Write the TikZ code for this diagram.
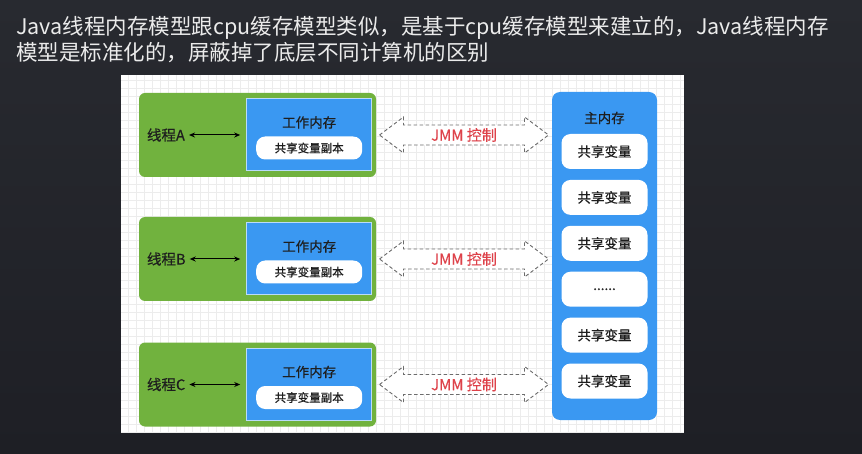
\documentclass[tikz,border=0pt]{standalone}
\usepackage{fontspec}
\setmainfont{Noto Sans CJK SC}
\newfontfamily\diagfont[FakeBold=0.5]{Noto Sans CJK SC}
\usepackage{tikz}
\usetikzlibrary{positioning, arrows.meta, calc}
\definecolor{slidebg}{RGB}{40,42,48}
\definecolor{slidebgdark}{RGB}{30,31,37}
\definecolor{threadgreen}{RGB}{113,178,62}
\definecolor{memblue}{RGB}{58,152,242}
\definecolor{jmmred}{RGB}{222,66,74}
\definecolor{darktext}{RGB}{30,30,30}
\definecolor{gridgray}{RGB}{236,236,236}
\tikzset{
  thread/.style={
    rectangle, rounded corners=6pt, fill=threadgreen,
    minimum width=237pt, minimum height=84pt
  },
  workmem/.style={
    rectangle, fill=memblue, draw=white!65!memblue, line width=1pt,
    minimum width=125pt, minimum height=72pt
  },
  heading/.style={inner sep=0pt, text=darktext, font=\diagfont\fontsize{13.5}{16}\selectfont},
  copybox/.style={
    rectangle, rounded corners=9pt, fill=white, text=darktext,
    minimum width=106pt, minimum height=23pt, inner sep=0pt,
    font=\diagfont\fontsize{11.5}{14}\selectfont
  },
  namelabel/.style={inner sep=0pt, text=darktext, font=\diagfont\fontsize{14.5}{16}\selectfont},
  biarrow/.style={{Stealth[length=6pt,width=5pt]}-{Stealth[length=6pt,width=5pt]}, line width=1pt, black},
  jmmline/.style={
    draw=gray!85!black, dash pattern=on 3.5pt off 2.5pt,
    line width=0.9pt, fill=white
  },
  jmmtext/.style={inner sep=0pt, text=jmmred, font=\diagfont\fontsize{15}{17}\selectfont},
  mainmem/.style={
    rectangle, rounded corners=8pt, fill=memblue,
    minimum width=105pt, minimum height=328pt
  },
  varbox/.style={
    rectangle, rounded corners=9pt, fill=white, text=darktext,
    minimum width=86pt, minimum height=35pt, inner sep=0pt,
    font=\diagfont\fontsize{13.5}{16}\selectfont
  },
  title/.style={anchor=west, inner sep=0pt, text=white!92!black, font=\fontsize{21.5}{24}\selectfont},
}
% dashed double arrow round a point
\newcommand{\jmmarrow}[1]{%
  \draw[jmmline] (#1) ++(-84.5,0) -- ++(24,-18) -- ++(0,8) -- ++(121,0) -- ++(0,-8)
    -- ++(24,18) -- ++(-24,18) -- ++(0,-8) -- ++(-121,0) -- ++(0,8) -- cycle;}

\begin{document}
\begin{tikzpicture}[x=1pt, y=-1pt]
  % slide background and title
  \shade[top color=slidebg, bottom color=slidebgdark] (0,0) rectangle (862,454);
  \useasboundingbox (0,0) rectangle (862,454);
  \node[title] (title1) at (16,27.5) {Java线程内存模型跟cpu缓存模型类似，是基于cpu缓存模型来建立的，Java线程内存};
  \node[title] (title2) at (16,52.5) {模型是标准化的，屏蔽掉了底层不同计算机的区别};

  % white panel with grid
  \fill[white] (121,75) rectangle (684,433);
  \draw[gridgray, line width=0.4pt, step=8pt] (121,75) grid (684,433);

  % main memory
  \node[mainmem] (mainmem) at (604.5,256) {};
  \node[heading] (mainmemtitle) at (604.5,118) {主内存};
  \node[varbox] (var1) at (604.5,151.5) {共享变量};
  \node[varbox, below=10.5pt of var1] (var2) {共享变量};
  \node[varbox, below=10.5pt of var2] (var3) {共享变量};
  \node[varbox, below=10.5pt of var3] (var4) {......};
  \node[varbox, below=10.5pt of var4] (var5) {共享变量};
  \node[varbox, below=10.5pt of var5] (var6) {共享变量};

  % thread A
  \node[thread] (threadA) at (257.5,135) {};
  \node[workmem, left=4pt of threadA.east] (workA) {};
  \node[heading] (workAtitle) at ([yshift=12.5pt]workA.center) {工作内存};
  \node[copybox] (copyA) at ([yshift=-13pt]workA.center) {共享变量副本};
  \node[namelabel, right=8pt of threadA.west] (nameA) {线程A};
  \draw[biarrow] ([xshift=4pt]nameA.east) -- ([xshift=-6pt]workA.west);
  \coordinate (jmmA) at ($(threadA.east)!0.5!(mainmem.west |- threadA.east)$);
  \jmmarrow{jmmA}
  \node[jmmtext] (jmmAtext) at (jmmA) {JMM 控制};

  % thread B
  \node[thread] (threadB) at (257.5,259) {};
  \node[workmem, left=4pt of threadB.east] (workB) {};
  \node[heading] (workBtitle) at ([yshift=12.5pt]workB.center) {工作内存};
  \node[copybox] (copyB) at ([yshift=-13pt]workB.center) {共享变量副本};
  \node[namelabel, right=8pt of threadB.west] (nameB) {线程B};
  \draw[biarrow] ([xshift=4pt]nameB.east) -- ([xshift=-6pt]workB.west);
  \coordinate (jmmB) at ($(threadB.east)!0.5!(mainmem.west |- threadB.east)$);
  \jmmarrow{jmmB}
  \node[jmmtext] (jmmBtext) at (jmmB) {JMM 控制};

  % thread C
  \node[thread] (threadC) at (257.5,384.5) {};
  \node[workmem, left=4pt of threadC.east] (workC) {};
  \node[heading] (workCtitle) at ([yshift=12.5pt]workC.center) {工作内存};
  \node[copybox] (copyC) at ([yshift=-13pt]workC.center) {共享变量副本};
  \node[namelabel, right=8pt of threadC.west] (nameC) {线程C};
  \draw[biarrow] ([xshift=4pt]nameC.east) -- ([xshift=-6pt]workC.west);
  \coordinate (jmmC) at ($(threadC.east)!0.5!(mainmem.west |- threadC.east)$);
  \jmmarrow{jmmC}
  \node[jmmtext] (jmmCtext) at (jmmC) {JMM 控制};
\end{tikzpicture}
\end{document}
